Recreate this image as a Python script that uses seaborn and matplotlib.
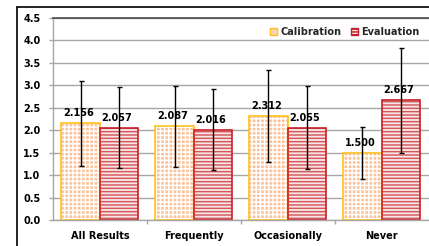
import matplotlib
matplotlib.use("Agg")
import matplotlib.pyplot as plt
from matplotlib.patches import Rectangle, Patch
from matplotlib.lines import Line2D
import seaborn as sns
import pandas as pd
import numpy as np

categories = ["All Results", "Frequently", "Occasionally", "Never"]
series_names = ["Calibration", "Evaluation"]
calibration = [2.156, 2.087, 2.312, 1.500]
evaluation = [2.057, 2.016, 2.055, 2.667]
calibration_sd = [0.95, 0.90, 1.03, 0.58]
evaluation_sd = [0.90, 0.90, 0.92, 1.17]
yticks = [0.0, 0.5, 1.0, 1.5, 2.0, 2.5, 3.0, 3.5, 4.0, 4.5]

sns.set_theme(style="white")
plt.rcParams["font.family"] = ["DejaVu Sans"]
plt.rcParams["hatch.linewidth"] = 1.05

FS = 7

df = pd.DataFrame({
    "category": categories * 2,
    "series": [series_names[0]] * 4 + [series_names[1]] * 4,
    "value": calibration + evaluation,
    "sd": calibration_sd + evaluation_sd,
})

W, H = 429, 246
fig = plt.figure(figsize=(W / 100, H / 100), dpi=100)
ax = fig.add_axes([53 / W, (H - 220) / H, (428.5 - 53) / W, (220 - 18) / H])

sns.barplot(data=df, x="category", y="value", hue="series", order=categories,
            hue_order=series_names, errorbar=None, width=0.82, gap=0,
            palette=["#FDC9A4", "#F9E4E4"], legend=False, ax=ax, zorder=2)

styles = {
    "Calibration": dict(face="#FCC39A", hatch_col="#FFFFFF", hatch="++++", edge="#FFC21A"),
    "Evaluation": dict(face="#F9E6E6", hatch_col="#D4575C", hatch="-----", edge="#C8202A"),
}

bars = [p for p in ax.patches if isinstance(p, Rectangle) and p.get_width() > 0]
sds = calibration_sd + evaluation_sd
vals = calibration + evaluation
sers = [series_names[0]] * 4 + [series_names[1]] * 4
for p, v, sd, s in zip(bars, vals, sds, sers):
    st = styles[s]
    p.set_facecolor(st["face"])
    p.set_edgecolor(st["hatch_col"])
    p.set_hatch(st["hatch"])
    p.set_linewidth(0)
    x0, y0, w, h = p.get_x(), p.get_y(), p.get_width(), p.get_height()
    ax.add_patch(Rectangle((x0, y0), w, h, fill=False, edgecolor=st["edge"],
                           linewidth=1.2, zorder=2.5))
    cx = x0 + w / 2
    ax.errorbar(cx, v, yerr=sd, fmt="none", ecolor="black", elinewidth=1.0,
                capsize=1.8, capthick=1.0, zorder=4)
    ax.annotate(f"{v:.3f}", (cx, v), xytext=(-1.5, 3.5), textcoords="offset points",
                ha="center", va="bottom", fontsize=FS, fontweight="bold",
                color="black", zorder=5)

ax.set_ylim(0, 4.5)
ax.set_xlim(-0.5, 3.5)
ax.set_yticks(yticks)
ax.set_yticklabels([f"{t:.1f}" for t in yticks])
ax.yaxis.grid(True, color="#A6A6A6", linewidth=1.0)
ax.set_axisbelow(True)
ax.set_xlabel("")
ax.set_ylabel("")
ax.set_xticks(range(len(categories)))
ax.set_xticklabels(categories)
ax.set_xticks([0.5, 1.5, 2.5], minor=True)
ax.tick_params(axis="x", which="major", length=0, pad=8, labelsize=FS, labelcolor="black")
ax.tick_params(axis="x", which="minor", length=3, width=1, color="#A6A6A6", bottom=True)
ax.tick_params(axis="y", length=3, width=1, color="#A6A6A6", pad=6, labelsize=FS,
               labelcolor="black", left=True)
for lab in ax.get_xticklabels() + ax.get_yticklabels():
    lab.set_fontweight("bold")

for side in ["left", "bottom"]:
    ax.spines[side].set_color("#A6A6A6")
    ax.spines[side].set_linewidth(1.0)
ax.spines["top"].set_color("#555555")
ax.spines["top"].set_linewidth(1.3)
ax.spines["right"].set_visible(False)

handles = [Patch(facecolor="#FDD3B3", edgecolor=styles["Calibration"]["edge"],
                 linewidth=1.0, label="Calibration"),
           Patch(facecolor="#F9E6E6", edgecolor=styles["Evaluation"]["edge"],
                 hatch="------", linewidth=1.0, label="Evaluation")]
leg = ax.legend(handles=handles, loc="upper right", ncol=2, frameon=False,
                fontsize=FS, handlelength=0.7, handleheight=0.7,
                handletextpad=0.3, columnspacing=1.0,
                bbox_to_anchor=(0.99, 0.985), borderaxespad=0.2)
for t in leg.get_texts():
    t.set_fontweight("bold")

# outer chart frame
fig.add_artist(Line2D([16.5 / W, 16.5 / W], [0, 1 - 6.5 / H], color="black", linewidth=1.2,
                      transform=fig.transFigure))
fig.add_artist(Line2D([16.5 / W, 1], [1 - 6.5 / H, 1 - 6.5 / H], color="black", linewidth=1.2,
                      transform=fig.transFigure))

fig.savefig("out.png", dpi=100)
